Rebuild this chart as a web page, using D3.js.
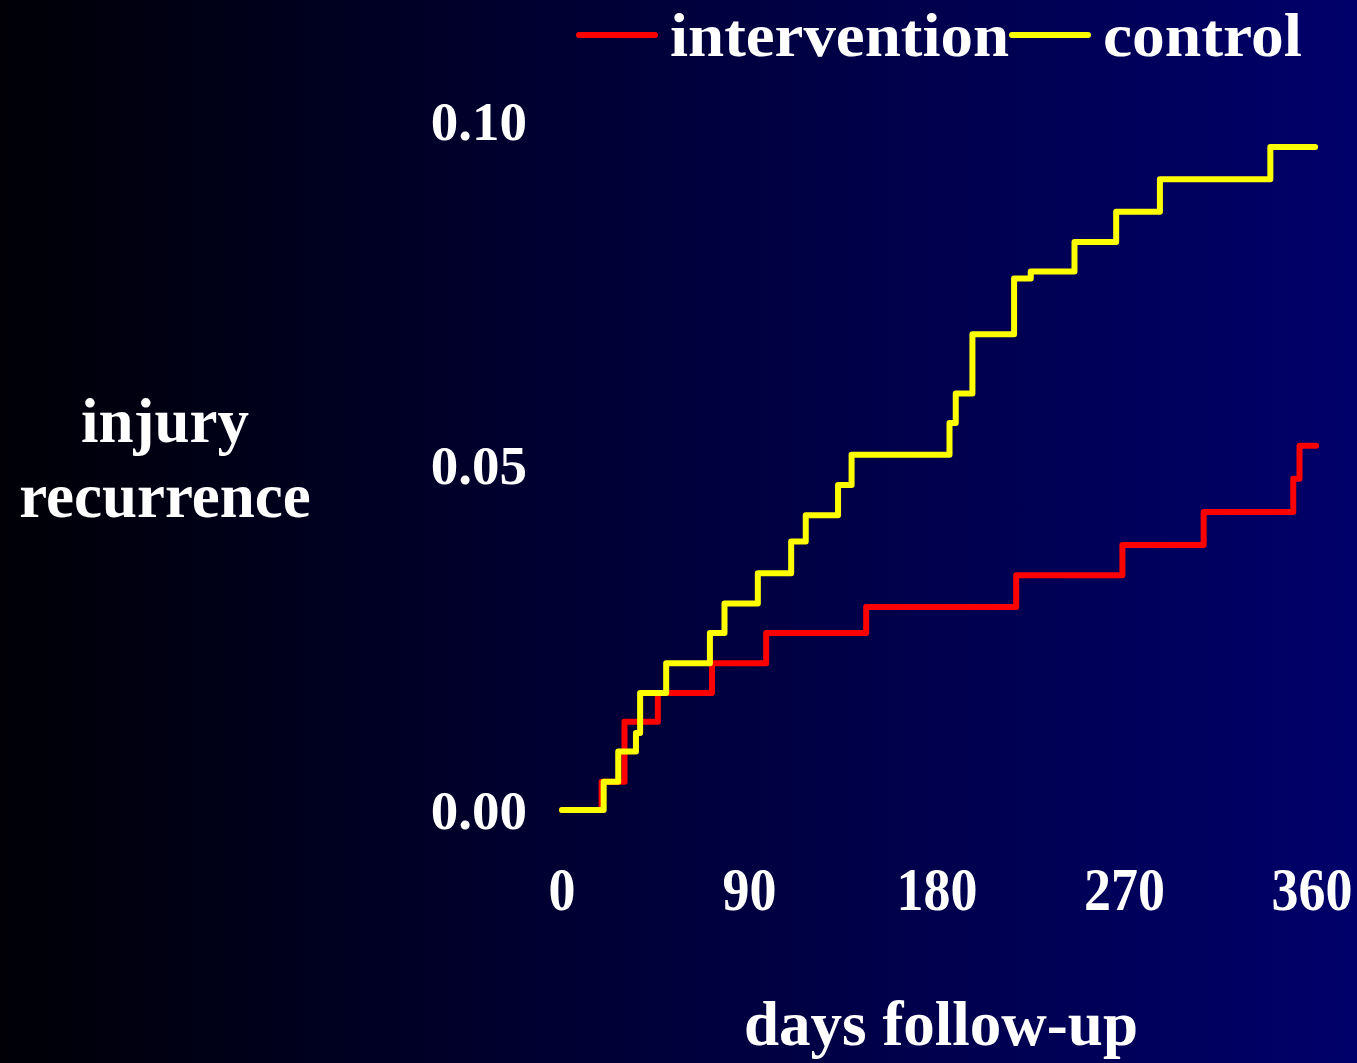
<!DOCTYPE html>
<html>
<head>
<meta charset="utf-8">
<script src="https://cdn.jsdelivr.net/npm/d3@7"></script>
<style>
  html, body { margin: 0; padding: 0; background: #000; }
  svg { display: block; }
</style>
</head>
<body>
<div id="vis-container"></div>
<script>
// data (cumulative injury recurrence, step curves)
var interventionDays = [0, 19, 30, 46, 72, 98, 146, 218, 269, 308, 351, 354, 362];
var interventionRisk = [0, 0.0041, 0.0128, 0.0170, 0.0213, 0.0257, 0.0295, 0.0341, 0.0385, 0.0433, 0.0481, 0.0529, 0.0529];

var controlDays = [0, 20, 27, 35.5, 37.5, 50, 71, 78, 94, 110, 117, 132.5, 139, 186, 189, 197, 217, 225, 246, 266, 287, 340, 361.5];
var controlRisk = [0, 0.0041, 0.0085, 0.0112, 0.0170, 0.0213, 0.0257, 0.0300, 0.0344, 0.0390, 0.0428, 0.0472, 0.0516,
                   0.0562, 0.0605, 0.0691, 0.0772, 0.0782, 0.0825, 0.0869, 0.0916, 0.0963, 0.0963];

var xTicks = [0, 90, 180, 270, 360];
var yTicks = [0, 0.05, 0.10];
var seriesNames = ["intervention", "control"];
var seriesColors = ["#ff0000", "#ffff00"];

var width = 1357;
var height = 1063;
var font = "'Liberation Serif', 'Times New Roman', serif";

var svg = d3.select("#vis-container")
	.append("svg")
	.attr("width", width)
	.attr("height", height);

// background: black on the left fading into dark navy on the right
var grad = svg.append("defs").append("linearGradient")
	.attr("id", "bg")
	.attr("x1", "0%").attr("y1", "0%")
	.attr("x2", "100%").attr("y2", "0%");
grad.append("stop").attr("offset", "0%").attr("stop-color", "#000006");
grad.append("stop").attr("offset", "50%").attr("stop-color", "#00003c");
grad.append("stop").attr("offset", "100%").attr("stop-color", "#00006a");

svg.append("rect")
	.attr("width", width)
	.attr("height", height)
	.attr("fill", "url(#bg)");

var x = d3.scaleLinear().domain([0, 360]).range([562, 1312]);
var y = d3.scaleLinear().domain([0, 0.10]).range([810, 121.5]);

// y tick labels (no axis line)
svg.selectAll(".ytick")
	.data(yTicks)
	.enter().append("text")
	.attr("class", "ytick")
	.attr("x", 527)
	.attr("y", function (d) { return y(d) + 18.5; })
	.attr("text-anchor", "end")
	.attr("font-family", font)
	.attr("font-weight", "bold")
	.attr("font-size", 55)
	.attr("fill", "#fff")
	.text(function (d) { return d3.format(".2f")(d); });

// x tick labels, a bit narrow in the original
svg.selectAll(".xtick")
	.data(xTicks)
	.enter().append("text")
	.attr("class", "xtick")
	.attr("transform", function (d) { return "translate(" + x(d) + ",910) scale(0.87,1)"; })
	.attr("text-anchor", "middle")
	.attr("font-family", font)
	.attr("font-weight", "bold")
	.attr("font-size", 62)
	.attr("fill", "#fff")
	.text(function (d) { return d; });

// axis titles
var ytitle = svg.append("text")
	.attr("text-anchor", "middle")
	.attr("font-family", font)
	.attr("font-weight", "bold")
	.attr("font-size", 63)
	.attr("fill", "#fff");
ytitle.append("tspan").attr("x", 165).attr("y", 442).text("injury");
ytitle.append("tspan").attr("x", 165).attr("y", 517).text("recurrence");

svg.append("text")
	.attr("x", 941)
	.attr("y", 1045)
	.attr("text-anchor", "middle")
	.attr("font-family", font)
	.attr("font-weight", "bold")
	.attr("font-size", 63)
	.attr("fill", "#fff")
	.text("days follow-up");

// step curves
var line = d3.line()
	.curve(d3.curveStepAfter)
	.x(function (d) { return x(d[0]); })
	.y(function (d) { return y(d[1]); });

var series = [
	d3.zip(interventionDays, interventionRisk),
	d3.zip(controlDays, controlRisk)
];

for (var i = 0; i < series.length; ++i) {
	svg.append("path")
		.attr("d", line(series[i]))
		.attr("fill", "none")
		.attr("stroke", seriesColors[i])
		.attr("stroke-width", 6)
		.attr("stroke-linecap", "round")
		.attr("stroke-linejoin", "round");
}

// legend at the top, text stretched slightly to the original widths
var legendX = [579, 1012];
var legendTextW = [339, 199];
for (var j = 0; j < seriesNames.length; ++j) {
	svg.append("line")
		.attr("x1", legendX[j])
		.attr("x2", legendX[j] + 76)
		.attr("y1", 35)
		.attr("y2", 35)
		.attr("stroke", seriesColors[j])
		.attr("stroke-width", 6)
		.attr("stroke-linecap", "round");
	svg.append("text")
		.attr("x", legendX[j] + 91)
		.attr("y", 56)
		.attr("font-family", font)
		.attr("font-weight", "bold")
		.attr("font-size", 61)
		.attr("textLength", legendTextW[j])
		.attr("lengthAdjust", "spacingAndGlyphs")
		.attr("fill", "#fff")
		.text(seriesNames[j]);
}
</script>
</body>
</html>
